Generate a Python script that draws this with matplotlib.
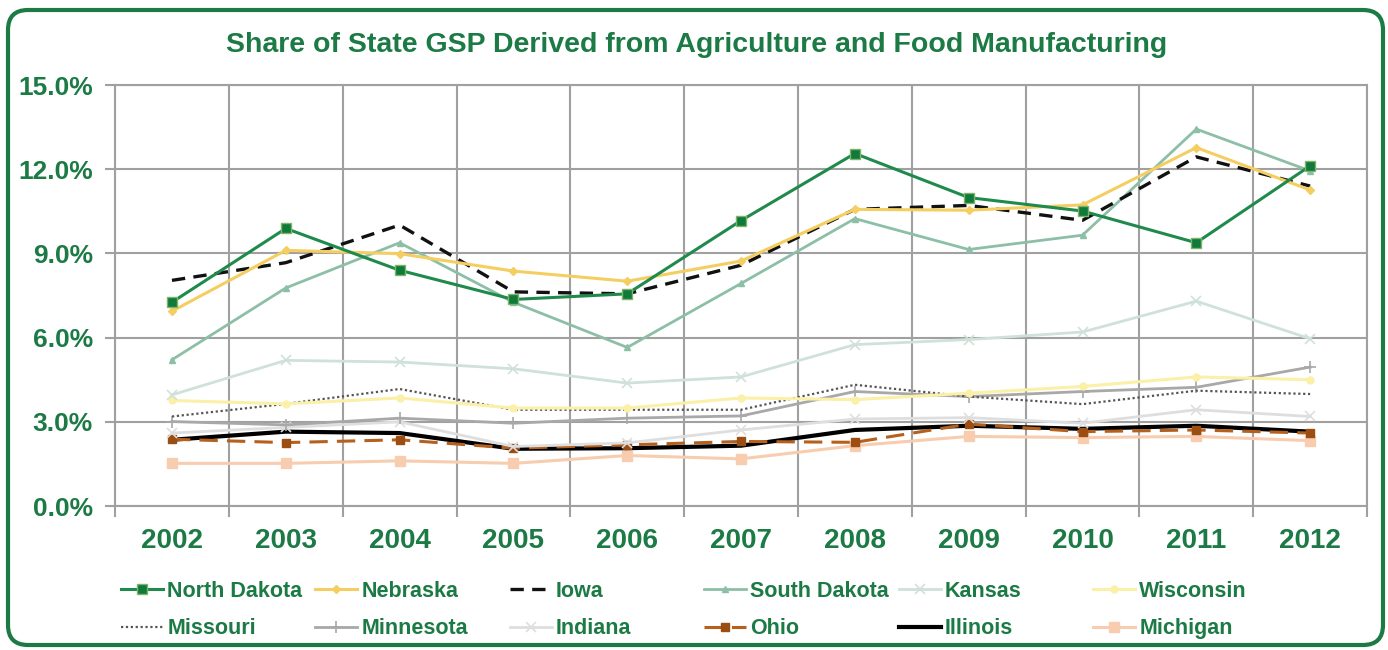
import matplotlib
matplotlib.use("Agg")
import matplotlib.pyplot as plt
import matplotlib.patches as mpatches
from matplotlib.transforms import IdentityTransform
from matplotlib.ticker import FixedLocator

years = ["2002", "2003", "2004", "2005", "2006", "2007",
         "2008", "2009", "2010", "2011", "2012"]

north_dakota = [7.26, 9.89, 8.40, 7.36, 7.56, 10.17, 12.56, 10.99, 10.51, 9.38, 12.12]
nebraska = [6.94, 9.11, 8.99, 8.37, 8.01, 8.73, 10.57, 10.54, 10.73, 12.77, 11.26]
iowa = [8.04, 8.67, 10.01, 7.63, 7.56, 8.58, 10.57, 10.71, 10.18, 12.44, 11.40]
south_dakota = [5.21, 7.77, 9.38, 7.26, 5.65, 7.93, 10.24, 9.14, 9.65, 13.43, 11.94]
kansas = [3.96, 5.19, 5.13, 4.89, 4.38, 4.60, 5.75, 5.93, 6.20, 7.30, 5.96]
wisconsin = [3.76, 3.64, 3.85, 3.49, 3.49, 3.85, 3.79, 4.02, 4.26, 4.60, 4.50]
missouri = [3.19, 3.64, 4.17, 3.43, 3.43, 3.43, 4.32, 3.90, 3.63, 4.11, 3.99]
minnesota = [3.01, 2.89, 3.13, 2.95, 3.13, 3.21, 4.08, 3.90, 4.08, 4.23, 4.95]
indiana = [2.60, 2.80, 3.00, 2.12, 2.25, 2.71, 3.10, 3.15, 2.95, 3.43, 3.19]
ohio = [2.38, 2.26, 2.36, 2.06, 2.18, 2.30, 2.27, 2.92, 2.65, 2.71, 2.60]
illinois = [2.36, 2.65, 2.60, 2.04, 2.06, 2.15, 2.71, 2.86, 2.75, 2.86, 2.65]
michigan = [1.52, 1.52, 1.61, 1.52, 1.80, 1.68, 2.15, 2.48, 2.44, 2.48, 2.33]

y_ticks = [0, 3, 6, 9, 12, 15]

green = "#1C7A45"
plt.rcParams["font.family"] = ["Liberation Sans", "DejaVu Sans"]
plt.rcParams["font.weight"] = "bold"

fig = plt.figure(figsize=(13.88, 6.5), dpi=100)
ax = fig.add_axes([0.0829, 0.2215, 0.9020, 0.6477])

# (label, values, style)
series = [
    ("North Dakota", north_dakota, dict(color="#1F8A4C", lw=2.2, marker="s", ms=7,
                                        mfc="#0F7A3A", mec="#7DB36A")),
    ("Nebraska", nebraska, dict(color="#F5CE62", lw=2.2, marker="D", ms=4)),
    ("Iowa", iowa, dict(color="#111111", lw=2.4, ls=(0, (4, 2.5)))),
    ("South Dakota", south_dakota, dict(color="#8CBFA6", lw=2.0, marker="^", ms=5)),
    ("Kansas", kansas, dict(color="#CFE1D8", lw=2.0, marker="x", ms=7, mew=1.2)),
    ("Wisconsin", wisconsin, dict(color="#FAF0A8", lw=2.2, marker="o", ms=5)),
    ("Missouri", missouri, dict(color="#555555", lw=1.6, ls=(0, (1, 1.2)))),
    ("Minnesota", minnesota, dict(color="#A8A8A8", lw=2.0, marker="+", ms=9, mew=1.2)),
    ("Indiana", indiana, dict(color="#DEDEDE", lw=2.0, marker="x", ms=7, mew=1.2)),
    ("Ohio", ohio, dict(color="#B5601C", lw=2.2, ls=(0, (6, 3)), marker="s", ms=6,
                        mfc="#9C4E12", mec="#9C4E12")),
    ("Illinois", illinois, dict(color="#000000", lw=3.0)),
    ("Michigan", michigan, dict(color="#F8CCAE", lw=2.2, marker="s", ms=7)),
]

x = list(range(len(years)))
handles = {}
n = len(series)
for i, (label, vals, style) in enumerate(series):
    h, = ax.plot(x, vals, label=label, zorder=3 + (n - i) * 0.1, **style)
    handles[label] = h

ax.set_xlim(-0.5, len(years) - 0.5)
ax.set_ylim(0, 15)

ax.xaxis.set_major_locator(FixedLocator(x))
ax.set_xticklabels(years)
ax.xaxis.set_minor_locator(FixedLocator([k - 0.5 for k in range(len(years) + 1)]))
ax.tick_params(axis="x", which="major", length=0, pad=16, labelsize=20, labelcolor=green)
ax.tick_params(axis="x", which="minor", length=8, width=1.5, color="#A0A0A0")

ax.set_yticks(y_ticks)
ax.set_yticklabels([f"{v:.1f}%" for v in y_ticks])
ax.tick_params(axis="y", length=7, width=1.5, color="#A0A0A0", pad=9,
               labelsize=19, labelcolor=green)

ax.grid(axis="y", which="major", color="#A0A0A0", lw=1.5)
ax.grid(axis="x", which="minor", color="#A0A0A0", lw=1.5)
ax.set_axisbelow(True)
for side in ["left", "right", "top", "bottom"]:
    ax.spines[side].set_color("#A0A0A0")
    ax.spines[side].set_linewidth(1.5)

fig.text(0.502, 0.931, "Share of State GSP Derived from Agriculture and Food Manufacturing",
         ha="center", va="center", fontsize=20.5, fontweight="bold", color=green)

# legend: six columns of two entries each, evenly spaced
columns = [("North Dakota", "Missouri"), ("Nebraska", "Minnesota"), ("Iowa", "Indiana"),
           ("South Dakota", "Ohio"), ("Kansas", "Illinois"), ("Wisconsin", "Michigan")]
for c, (top, bottom) in enumerate(columns):
    leg = fig.legend(handles=[handles[top], handles[bottom]], labels=[top, bottom],
                     loc="upper left", bbox_to_anchor=((121 + c * 194.4) / 1388, 1 - 581 / 650),
                     frameon=False, fontsize=15.5, handlelength=1.95, handletextpad=0.2,
                     labelspacing=0.75, borderpad=0, borderaxespad=0)
    for t in leg.get_texts():
        t.set_color(green)
        t.set_fontweight("bold")

border = mpatches.FancyBboxPatch((8, 5), 1375, 635,
                                 boxstyle="round,pad=0,rounding_size=20",
                                 transform=IdentityTransform(), fill=False,
                                 edgecolor=green, lw=3)
fig.patches.append(border)

fig.savefig("out.png", dpi=100)
